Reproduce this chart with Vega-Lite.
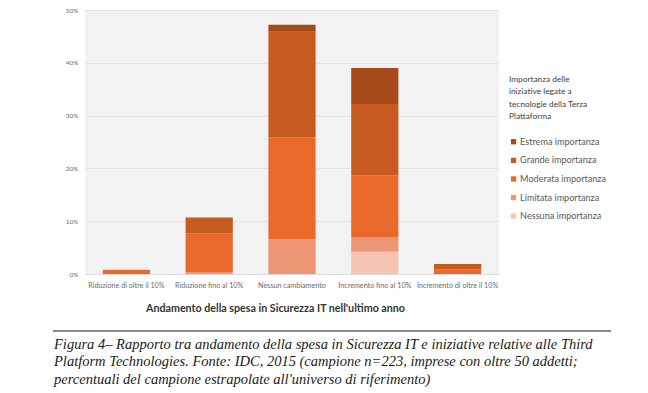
{
  "$schema": "https://vega.github.io/schema/vega-lite/v6.json",
  "padding": {"left": 52, "top": 7, "right": 0, "bottom": 0},
  "background": "white",
  "config": {
    "font": "Lato",
    "view": {"stroke": null}
  },
  "bounds": "flush",
  "spacing": 57,
  "vconcat": [
    {
      "width": 414,
      "height": 264,
      "view": {"fill": "#f2f2f2", "stroke": null},
      "data": {
        "values": [
          {"cat": "Riduzione di oltre il 10%", "imp": "Moderata importanza", "rank": 3, "v": 0.8},
          {"cat": "Riduzione fino al 10%", "imp": "Limitata importanza", "rank": 2, "v": 0.4},
          {"cat": "Riduzione fino al 10%", "imp": "Moderata importanza", "rank": 3, "v": 7.3},
          {"cat": "Riduzione fino al 10%", "imp": "Grande importanza", "rank": 4, "v": 3.0},
          {"cat": "Nessun cambiamento", "imp": "Limitata importanza", "rank": 2, "v": 6.6},
          {"cat": "Nessun cambiamento", "imp": "Moderata importanza", "rank": 3, "v": 19.3},
          {"cat": "Nessun cambiamento", "imp": "Grande importanza", "rank": 4, "v": 20.0},
          {"cat": "Nessun cambiamento", "imp": "Estrema importanza", "rank": 5, "v": 1.3},
          {"cat": "Incremento fino al 10%", "imp": "Nessuna importanza", "rank": 1, "v": 4.2},
          {"cat": "Incremento fino al 10%", "imp": "Limitata importanza", "rank": 2, "v": 2.8},
          {"cat": "Incremento fino al 10%", "imp": "Moderata importanza", "rank": 3, "v": 11.7},
          {"cat": "Incremento fino al 10%", "imp": "Grande importanza", "rank": 4, "v": 13.5},
          {"cat": "Incremento fino al 10%", "imp": "Estrema importanza", "rank": 5, "v": 6.8},
          {"cat": "Incremento di oltre il 10%", "imp": "Moderata importanza", "rank": 3, "v": 0.9},
          {"cat": "Incremento di oltre il 10%", "imp": "Grande importanza", "rank": 4, "v": 1.0}
        ]
      },
      "mark": {"type": "bar"},
      "encoding": {
        "x": {
          "field": "cat",
          "type": "nominal",
          "sort": ["Riduzione di oltre il 10%", "Riduzione fino al 10%", "Nessun cambiamento", "Incremento fino al 10%", "Incremento di oltre il 10%"],
          "scale": {"paddingInner": 0.43, "paddingOuter": 0.215},
          "axis": {
            "labelAngle": 0,
            "labelFontSize": 7.2,
            "labelColor": "#6b6b6b",
            "labelPadding": 7,
            "ticks": false,
            "domainColor": "#dcdcdc",
            "title": "Andamento della spesa in Sicurezza IT nell'ultimo anno",
            "titleFontSize": 10.7,
            "titleFontWeight": "bold",
            "titleColor": "#333333",
            "titlePadding": 15,
            "titleX": 190
          }
        },
        "y": {
          "field": "v",
          "type": "quantitative",
          "stack": "zero",
          "scale": {"domain": [0, 50], "nice": false},
          "axis": {
            "values": [0, 10, 20, 30, 40, 50],
            "labelExpr": "datum.value + '%'",
            "labelFontSize": 6.5,
            "labelColor": "#6b6b6b",
            "labelPadding": 7,
            "ticks": false,
            "domain": false,
            "gridColor": "#e4e4e4",
            "title": null
          }
        },
        "color": {
          "field": "imp",
          "type": "nominal",
          "scale": {
            "domain": ["Estrema importanza", "Grande importanza", "Moderata importanza", "Limitata importanza", "Nessuna importanza"],
            "range": ["#a64a1a", "#c65a1f", "#e9692a", "#ec9676", "#f5c4b2"]
          },
          "legend": {
            "orient": "none",
            "legendX": 424,
            "legendY": 65,
            "title": ["Importanza delle", "iniziative legate a", "tecnologie della Terza", "Plattaforma"],
            "titleFontSize": 8.3,
            "titleFontWeight": "normal",
            "titleColor": "#404040",
            "titleLineHeight": 12.3,
            "titlePadding": 17,
            "labelFontSize": 9.1,
            "labelColor": "#595959",
            "labelOffset": 2,
            "symbolType": "square",
            "symbolSize": 28,
            "symbolStrokeWidth": 0,
            "rowPadding": 8.6
          }
        },
        "order": {"field": "rank", "type": "quantitative", "sort": "ascending"}
      }
    },
    {
      "width": 558,
      "height": 70,
      "resolve": {"scale": {"y": "independent"}},
      "layer": [
        {
          "data": {"values": [{"part": "separator"}]},
          "mark": {"type": "rule", "color": "#1a1a1a", "strokeWidth": 1.2, "xOffset": -32, "x2Offset": -32},
          "encoding": {
            "x": {"datum": 0, "type": "quantitative", "scale": {"domain": [0, 1]}, "axis": null},
            "x2": {"datum": 1},
            "y": {"datum": 1, "type": "quantitative", "scale": {"domain": [0, 1]}, "axis": null}
          }
        },
        {
          "data": {
            "values": [
              {"line": 1, "text": "Figura 4– Rapporto tra andamento della spesa in Sicurezza IT e iniziative relative alle Third"},
              {"line": 2, "text": "Platform Technologies. Fonte: IDC, 2015 (campione n=223, imprese con oltre 50 addetti;"},
              {"line": 3, "text": "percentuali del campione estrapolate all'universo di riferimento)"}
            ]
          },
          "mark": {
            "type": "text",
            "align": "left",
            "baseline": "alphabetic",
            "dx": -31,
            "font": "Liberation Serif",
            "fontStyle": "italic",
            "fontSize": 14.5,
            "color": "#1a1a1a"
          },
          "encoding": {
            "x": {"datum": 0, "type": "quantitative", "scale": {"domain": [0, 1]}, "axis": null},
            "y": {"field": "line", "type": "ordinal", "scale": {"padding": 1.06}, "axis": null},
            "text": {"field": "text"}
          }
        }
      ]
    }
  ]
}
